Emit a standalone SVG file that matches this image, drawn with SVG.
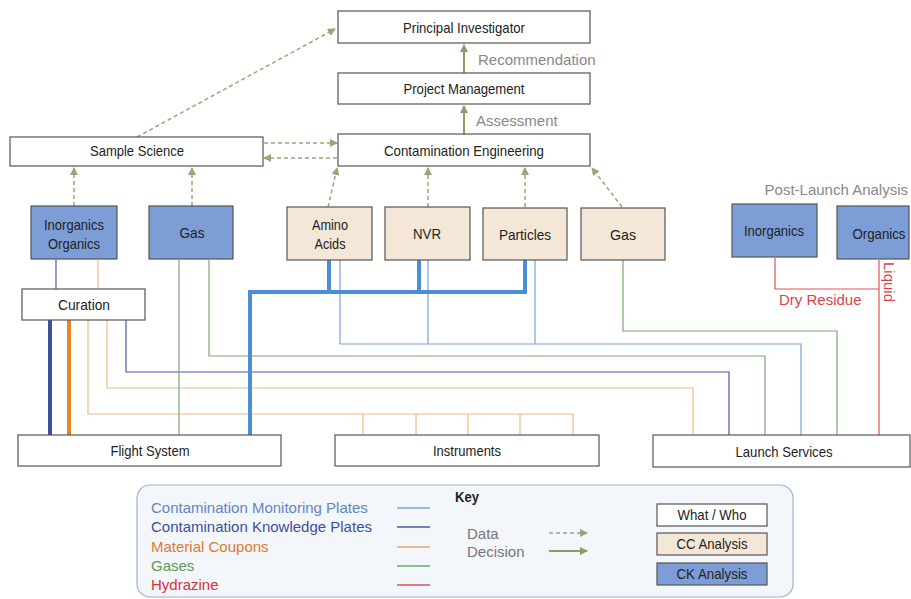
<svg xmlns="http://www.w3.org/2000/svg" width="911" height="599" viewBox="0 0 911 599">
<style>
  .box{stroke:#555;stroke-width:1.2}
  .w{fill:#fff}
  .cc{fill:#f5e7d8}
  .ck{fill:#7c9dd5}
  .nt{font-family:"Liberation Sans",Arial,sans-serif;font-size:15px;fill:#222;text-anchor:middle}
  .lbl{font-family:"Liberation Sans",Arial,sans-serif;font-size:15px;fill:#888}
  .data{stroke:#98a67a;stroke-width:1.5;stroke-dasharray:4 3;fill:none}
  .dec{stroke:#8e9c68;stroke-width:2;fill:none}
  .cmp{stroke:#74a7d8;stroke-width:1.2;fill:none}
  .cmpT{stroke:#4a8fd6;stroke-width:4;fill:none}
  .ckp{stroke:#4a5aa6;stroke-width:1.2;fill:none}
  .ckpT{stroke:#3f4fa0;stroke-width:4;fill:none}
  .mc{stroke:#ebb98c;stroke-width:1.2;fill:none}
  .mcT{stroke:#e6852a;stroke-width:4;fill:none}
  .gas{stroke:#78a870;stroke-width:1.2;fill:none}
  .hyd{stroke:#e0525a;stroke-width:1.2;fill:none}
  .kt{font-family:"Liberation Sans",Arial,sans-serif;font-size:15px}
</style>
<defs>
  <marker id="ad" markerWidth="8" markerHeight="8" refX="7" refY="4" orient="auto" markerUnits="userSpaceOnUse">
    <path d="M0,0 L8,4 L0,8 z" fill="#98a67a"/>
  </marker>
  <marker id="as" markerWidth="8" markerHeight="8" refX="7" refY="4" orient="auto" markerUnits="userSpaceOnUse">
    <path d="M0,0 L8,4 L0,8 z" fill="#8e9c68"/>
  </marker>
</defs>

<g id="connectors">
  <line class="dec" x1="464" y1="73" x2="464" y2="45" marker-end="url(#as)"/>
  <line class="dec" x1="464" y1="134" x2="464" y2="106" marker-end="url(#as)"/>
  <line class="data" x1="137" y1="137" x2="335" y2="29" marker-end="url(#ad)"/>
  <line class="data" x1="264" y1="143" x2="337" y2="143" marker-end="url(#ad)"/>
  <line class="data" x1="337" y1="158" x2="264" y2="158" marker-end="url(#ad)"/>
  <line class="data" x1="74" y1="206" x2="74" y2="168" marker-end="url(#ad)"/>
  <line class="data" x1="192" y1="206" x2="192" y2="168" marker-end="url(#ad)"/>
  <line class="data" x1="328" y1="207" x2="337" y2="168" marker-end="url(#ad)"/>
  <line class="data" x1="428" y1="207" x2="428" y2="168" marker-end="url(#ad)"/>
  <line class="data" x1="525" y1="207" x2="525" y2="168" marker-end="url(#ad)"/>
  <line class="data" x1="622" y1="207" x2="592" y2="168" marker-end="url(#ad)"/>

  <line class="ckp" x1="56" y1="260" x2="56" y2="289"/>
  <line class="mc" x1="98" y1="260" x2="98" y2="289"/>

  <line class="ckpT" x1="50" y1="320" x2="50" y2="435"/>
  <line class="mcT" x1="69" y1="320" x2="69" y2="435"/>
  <polyline class="mc" points="88,320 88,414 573,414 573,435"/>
  <line class="mc" x1="363" y1="414" x2="363" y2="435"/>
  <line class="mc" x1="416" y1="414" x2="416" y2="435"/>
  <line class="mc" x1="468" y1="414" x2="468" y2="435"/>
  <line class="mc" x1="520" y1="414" x2="520" y2="435"/>
  <polyline class="mc" points="107,320 107,388 693,388 693,435"/>
  <polyline class="ckp" points="126,320 126,372 729,372 729,435"/>

  <line class="gas" x1="179" y1="260" x2="179" y2="435"/>
  <polyline class="gas" points="209,260 209,356 765,356 765,435"/>

  <polyline class="cmp" points="340,260 340,344 801,344 801,435"/>
  <line class="cmp" x1="428" y1="260" x2="428" y2="344"/>
  <line class="cmp" x1="535" y1="260" x2="535" y2="344"/>

  <polyline class="cmpT" points="250,435 250,292 525,292 525,260"/>
  <line class="cmpT" x1="329" y1="260" x2="329" y2="292"/>
  <line class="cmpT" x1="419" y1="260" x2="419" y2="292"/>

  <polyline class="gas" points="623,260 623,331 837,331 837,435"/>

  <polyline class="hyd" points="775,258 775,289 879,289"/>
  <line class="hyd" x1="879" y1="260" x2="879" y2="435"/>
</g>

<g id="pi"><rect class="box w" x="338" y="11" width="252" height="32"/><text class="nt" x="464" y="33" textLength="122" lengthAdjust="spacingAndGlyphs">Principal Investigator</text></g>
<text class="lbl" x="478" y="65">Recommendation</text>
<g id="pm"><rect class="box w" x="338" y="73" width="252" height="31"/><text class="nt" x="464" y="94" textLength="121" lengthAdjust="spacingAndGlyphs">Project Management</text></g>
<text class="lbl" x="476" y="126">Assessment</text>
<g id="ce"><rect class="box w" x="338" y="134" width="252" height="32"/><text class="nt" x="464" y="156" textLength="160" lengthAdjust="spacingAndGlyphs">Contamination Engineering</text></g>
<g id="ss"><rect class="box w" x="10" y="137" width="253" height="29"/><text class="nt" x="137" y="156" textLength="94" lengthAdjust="spacingAndGlyphs">Sample Science</text></g>

<g id="ck-inorg-org"><rect class="box ck" x="31" y="206" width="86" height="53"/><text class="nt" x="74" y="230" textLength="60" lengthAdjust="spacingAndGlyphs">Inorganics</text><text class="nt" x="74" y="249" textLength="52" lengthAdjust="spacingAndGlyphs">Organics</text></g>
<g id="ck-gas"><rect class="box ck" x="149" y="206" width="84" height="53"/><text class="nt" x="192" y="238" textLength="25" lengthAdjust="spacingAndGlyphs">Gas</text></g>
<g id="cc-amino"><rect class="box cc" x="287" y="207" width="85" height="53"/><text class="nt" x="330" y="230" textLength="36" lengthAdjust="spacingAndGlyphs">Amino</text><text class="nt" x="330" y="249" textLength="31" lengthAdjust="spacingAndGlyphs">Acids</text></g>
<g id="cc-nvr"><rect class="box cc" x="385" y="207" width="85" height="53"/><text class="nt" x="427" y="239" textLength="28" lengthAdjust="spacingAndGlyphs">NVR</text></g>
<g id="cc-particles"><rect class="box cc" x="483" y="208" width="84" height="52"/><text class="nt" x="525" y="240" textLength="52" lengthAdjust="spacingAndGlyphs">Particles</text></g>
<g id="cc-gas"><rect class="box cc" x="581" y="208" width="84" height="52"/><text class="nt" x="623" y="240" textLength="26" lengthAdjust="spacingAndGlyphs">Gas</text></g>

<text class="lbl" x="908" y="195" text-anchor="end">Post-Launch Analysis</text>
<g id="pl-inorg"><rect class="box ck" x="732" y="204" width="85" height="53"/><text class="nt" x="774" y="236" textLength="60" lengthAdjust="spacingAndGlyphs">Inorganics</text></g>
<g id="pl-org"><rect class="box ck" x="837" y="206" width="72" height="53"/><text class="nt" x="879" y="239" textLength="53" lengthAdjust="spacingAndGlyphs">Organics</text></g>
<text class="kt" x="779" y="305" fill="#d9444c">Dry Residue</text>
<text class="kt" transform="translate(884,262) rotate(90)" fill="#d9444c">Liquid</text>

<g id="curation"><rect class="box w" x="22" y="289" width="123" height="31"/><text class="nt" x="84" y="310" textLength="52" lengthAdjust="spacingAndGlyphs">Curation</text></g>
<g id="flight"><rect class="box w" x="18" y="435" width="263" height="31"/><text class="nt" x="150" y="456" textLength="79" lengthAdjust="spacingAndGlyphs">Flight System</text></g>
<g id="instruments"><rect class="box w" x="335" y="435" width="264" height="31"/><text class="nt" x="467" y="456" textLength="68" lengthAdjust="spacingAndGlyphs">Instruments</text></g>
<g id="launch"><rect class="box w" x="653" y="435" width="257" height="32"/><text class="nt" x="784" y="457" textLength="97" lengthAdjust="spacingAndGlyphs">Launch Services</text></g>

<g id="key">
  <rect x="137" y="485" width="656" height="112" rx="13" fill="#f3f6fb" stroke="#9db3d2" stroke-width="1.2"/>
  <text x="455" y="502" font-family="Liberation Sans,Arial,sans-serif" font-size="14" font-weight="bold" fill="#222" textLength="24" lengthAdjust="spacingAndGlyphs">Key</text>
  <text class="kt" x="151" y="513" fill="#5f85c8">Contamination Monitoring Plates</text>
  <text class="kt" x="151" y="532" fill="#3f4fa0">Contamination Knowledge Plates</text>
  <text class="kt" x="151" y="552" fill="#e07b2c">Material Coupons</text>
  <text class="kt" x="151" y="571" fill="#5d9a55">Gases</text>
  <text class="kt" x="151" y="590" fill="#d9303a">Hydrazine</text>
  <line x1="397" y1="508" x2="430" y2="508" stroke="#74a7d8" stroke-width="1.5"/>
  <line x1="397" y1="527" x2="430" y2="527" stroke="#4a5aa6" stroke-width="1.5"/>
  <line x1="397" y1="547" x2="430" y2="547" stroke="#eba86e" stroke-width="1.5"/>
  <line x1="397" y1="566" x2="430" y2="566" stroke="#78a870" stroke-width="1.5"/>
  <line x1="397" y1="585" x2="430" y2="585" stroke="#e0525a" stroke-width="1.5"/>
  <text class="kt" x="467" y="539" fill="#777">Data</text>
  <text class="kt" x="467" y="557" fill="#777">Decision</text>
  <line class="data" x1="549" y1="533" x2="587" y2="533" marker-end="url(#ad)"/>
  <line class="dec" x1="549" y1="551" x2="587" y2="551" marker-end="url(#as)"/>
  <rect class="box w" x="657" y="504" width="110" height="22"/>
  <text class="nt" x="712" y="520" textLength="69" lengthAdjust="spacingAndGlyphs">What / Who</text>
  <rect class="box cc" x="657" y="533" width="110" height="22"/>
  <text class="nt" x="712" y="549" textLength="71" lengthAdjust="spacingAndGlyphs">CC Analysis</text>
  <rect class="box ck" x="657" y="563" width="110" height="22"/>
  <text class="nt" x="712" y="579" textLength="71" lengthAdjust="spacingAndGlyphs">CK Analysis</text>
</g>
</svg>
